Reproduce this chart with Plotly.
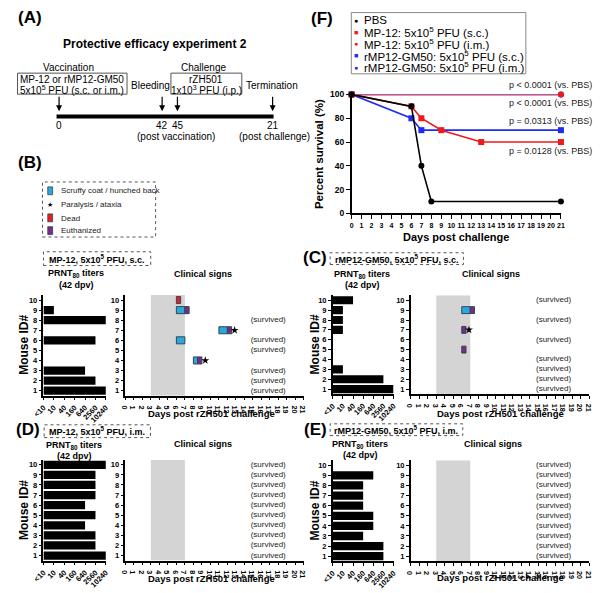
import plotly.graph_objects as go

W, H = 602, 593
def PX(x): return x / W
def PY(y): return 1 - y / H

# ------------------------------- data -------------------------------
# (F) survival after challenge
pbs_days = [0, 6, 7, 8, 21]
pbs_surv = [100, 90, 40, 10, 10]
mp12_sc_days = [0, 6, 7, 9, 13, 21]
mp12_sc_surv = [100, 90, 80, 70, 60, 60]
mp12_im_days = [0, 21]
mp12_im_surv = [100, 100]
gm50_sc_days = [0, 6, 7, 21]
gm50_sc_surv = [100, 80, 70, 70]
gm50_im_days = [0, 21]
gm50_im_surv = [100, 100]
series_names = ["PBS", "MP-12: 5x10<sup>5</sup> PFU (s.c.)", "MP-12: 5x10<sup>5</sup> PFU (i.m.)",
                "rMP12-GM50: 5x10<sup>5</sup> PFU (s.c.)", "rMP12-GM50: 5x10<sup>5</sup> PFU (i.m.)"]
p_value_labels = ["p < 0.0001 (vs. PBS)", "p < 0.0001 (vs. PBS)",
                  "p = 0.0313 (vs. PBS)", "p = 0.0128 (vs. PBS)"]

# PRNT80 titers (mouse 1..10)
mouse_ids = [1, 2, 3, 4, 5, 6, 7, 8, 9, 10]
titer_labels = ["<10", "10", "40", "160", "640", "2560", "10240"]
prnt_b = ["10240", "2560", "640", "<10", "<10", "2560", "<10", "10240", "10", "<10"]
prnt_c = ["10240", "2560", "10", "<10", "<10", "<10", "10", "10", "10", "40"]
prnt_d = ["10240", "2560", "2560", "640", "2560", "640", "2560", "2560", "2560", "10240"]
prnt_e = ["2560", "2560", "160", "640", "640", "160", "160", "160", "640", "<10"]

# clinical signs (days post challenge)
challenge_window = [3, 7]
b_scruffy_mouse = [9, 7, 6, 4]
b_scruffy_start = [6, 11, 6, 8]
b_scruffy_end = [7, 12, 7, 8.5]
b_dead_mouse = [10]
b_dead_start = [6]
b_dead_end = [6.5]
b_euth_mouse = [9, 7, 4]
b_euth_start = [7, 12, 8.5]
b_euth_end = [7.5, 12.5, 9]
b_para_mouse = [7, 4]
b_para_day = [12.85, 9.4]
b_survived = [8, 6, 5, 3, 2, 1]

c_scruffy_mouse = [9]
c_scruffy_start = [6]
c_scruffy_end = [7]
c_euth_mouse = [9, 7, 5]
c_euth_start = [7, 6, 6]
c_euth_end = [7.5, 6.5, 6.5]
c_para_mouse = [7]
c_para_day = [6.85]
c_survived = [10, 8, 6, 4, 3, 2, 1]

d_survived = [10, 9, 8, 7, 6, 5, 4, 3, 2, 1]
e_survived = [10, 9, 8, 7, 6, 5, 4, 3, 2, 1]

# ------------------------------- style -------------------------------
FONT = "Arial"
CYAN = "#29a8e0"
RED = "#e41e26"
PURPLE = "#7b2a8c"
BLUE = "#1f2bf0"
SRED = "#f01818"
GREY = "#d4d4d4"
SURV_X = 16.8

fig = go.Figure()

# ---- (F) survival ----
def surv(days, vals, color, symbol):
    fig.add_trace(go.Scatter(x=days, y=vals, mode="lines+markers", xaxis="x", yaxis="y",
                             line=dict(color=color, width=1.6),
                             marker=dict(color=color, symbol=symbol, size=6),
                             cliponaxis=False, showlegend=False, hoverinfo="skip"))

surv(gm50_sc_days, gm50_sc_surv, BLUE, "square")
surv(gm50_im_days, gm50_im_surv, BLUE, "circle")
surv(mp12_sc_days, mp12_sc_surv, SRED, "square")
surv(mp12_im_days, mp12_im_surv, SRED, "circle")
surv(pbs_days, pbs_surv, "black", "circle")

# ---- PRNT bars ----
def prnt(vals, ax):
    fig.add_trace(go.Bar(orientation="h", y=mouse_ids, x=[titer_labels.index(v) for v in vals],
                         width=0.82, marker=dict(color="black", line=dict(width=0)),
                         xaxis="x" + ax, yaxis="y" + ax, showlegend=False, hoverinfo="skip"))

prnt(prnt_b, "2")
prnt(prnt_c, "4")
prnt(prnt_d, "6")
prnt(prnt_e, "8")

# ---- clinical signs ----
def events(mice, start, end, color, ax):
    fig.add_trace(go.Bar(orientation="h", y=mice, base=start,
                         x=[e - s for s, e in zip(start, end)], width=0.7,
                         marker=dict(color=color, line=dict(color="#34464e", width=1)),
                         xaxis="x" + ax, yaxis="y" + ax, showlegend=False, hoverinfo="skip"))

def para(mice, days, ax):
    fig.add_trace(go.Scatter(x=days, y=mice, mode="markers", xaxis="x" + ax, yaxis="y" + ax,
                             marker=dict(symbol="star", size=6, color="black"),
                             showlegend=False, hoverinfo="skip", cliponaxis=False))

def survived(mice, ax):
    fig.add_trace(go.Scatter(x=[SURV_X] * len(mice), y=mice, mode="text", text=["(survived)"] * len(mice),
                             textfont=dict(family=FONT, size=8, color="#222"),
                             xaxis="x" + ax, yaxis="y" + ax, showlegend=False, hoverinfo="skip",
                             cliponaxis=False))

events(b_scruffy_mouse, b_scruffy_start, b_scruffy_end, CYAN, "3")
events(b_dead_mouse, b_dead_start, b_dead_end, RED, "3")
events(b_euth_mouse, b_euth_start, b_euth_end, PURPLE, "3")
para(b_para_mouse, b_para_day, "3")
survived(b_survived, "3")

events(c_scruffy_mouse, c_scruffy_start, c_scruffy_end, CYAN, "5")
events(c_euth_mouse, c_euth_start, c_euth_end, PURPLE, "5")
para(c_para_mouse, c_para_day, "5")
survived(c_survived, "5")

survived(d_survived, "7")
survived(e_survived, "9")

# ------------------------------- axes -------------------------------
def axis(domain_px, rng, horizontal, anchor, **kw):
    if horizontal:
        dom = [PX(domain_px[0]), PX(domain_px[1])]
    else:
        dom = [PY(domain_px[0]), PY(domain_px[1])]
    d = dict(domain=dom, range=rng, anchor=anchor, showline=True, linecolor="black", linewidth=1.5,
             ticks="outside", ticklen=3, tickwidth=1.2, tickcolor="black", showgrid=False,
             zeroline=False, fixedrange=True,
             tickfont=dict(family=FONT, size=7.5, color="black", weight="bold"))
    d.update(kw)
    return d

layout_axes = {}
# F
layout_axes["xaxis"] = axis([349.3, 564], [0, 21], True, "y", tickmode="linear", tick0=0, dtick=1,
                            ticklen=4, tickfont=dict(family=FONT, size=7, color="black", weight="bold"))
layout_axes["yaxis"] = axis([212, 91], [0, 100], False, "x", tickmode="linear", tick0=0, dtick=20,
                            ticklen=4, tickfont=dict(family=FONT, size=8.5, color="black", weight="bold"))

panels = {
    "2": ([33.3, 97.3], [397.4, 295.0], "prnt"),
    "3": ([117.3, 300.4], [397.4, 295.0], "clin"),
    "4": ([330, 392.3], [395.7, 295.3], "prnt"),
    "5": ([410, 593], [395.7, 295.3], "clin"),
    "6": ([33.3, 97.3], [565.1, 462.6], "prnt"),
    "7": ([117.3, 300.4], [565.1, 462.6], "clin"),
    "8": ([330, 392.3], [565.8, 463.0], "prnt"),
    "9": ([410, 593], [565.8, 463.0], "clin"),
}
for k, (xd, yd, kind) in panels.items():
    if kind == "prnt":
        layout_axes["xaxis" + k] = axis(xd, [0, 6], True, "y" + k, tickmode="array",
                                        tickvals=list(range(len(titer_labels))), ticktext=titer_labels,
                                        tickangle=-45)
    else:
        layout_axes["xaxis" + k] = axis(xd, [0, 21], True, "y" + k, tickmode="linear", tick0=0, dtick=1,
                                        tickfont=dict(family=FONT, size=7.2, color="black", weight="bold"))
    layout_axes["yaxis" + k] = axis(yd, [0.5, 10.5], False, "x" + k, tickmode="linear", tick0=1, dtick=1)

# ------------------------------- shapes -------------------------------
shapes = []
for k in ["3", "5", "7", "9"]:
    shapes.append(dict(type="rect", xref="x" + k, yref="y" + k, x0=challenge_window[0], x1=challenge_window[1],
                       y0=0.5, y1=10.5, fillcolor=GREY, line=dict(width=0), layer="below"))

def prect(x0, x1, y0, y1, **kw):
    d = dict(type="rect", xref="paper", yref="paper", x0=PX(x0), x1=PX(x1), y0=PY(y1), y1=PY(y0))
    d.update(kw)
    return d

# dotted boxes
dot = dict(color="#555", width=1, dash="dot")
shapes += [
    prect(32.3, 148.3, 180, 236, line=dot),
    prect(33.3, 143.3, 251, 265, line=dot),
    prect(327.3, 464, 252, 264, line=dot),
    prect(34, 143, 427, 440, line=dot),
    prect(327.3, 463.3, 426, 438, line=dot),
]
# legend B keys
shapes += [
    prect(37.7, 42.7, 185, 193, fillcolor=CYAN, line=dict(color="#34464e", width=0.8)),
    prect(37.7, 42.7, 212.5, 220.5, fillcolor=RED, line=dict(color="#34464e", width=0.8)),
    prect(37.7, 42.7, 225.5, 233.5, fillcolor=PURPLE, line=dict(color="#34464e", width=0.8)),
]
# legend F box
shapes.append(prect(349, 528, 7.7, 70, line=dict(color="#8a8a8a", width=1)))
# panel A boxes
shapes += [
    prect(6.7, 119, 69.3, 90.7, line=dict(color="#555", width=1)),
    prect(164, 236.7, 69.3, 90.7, line=dict(color="#555", width=1)),
]
# timeline bar
shapes.append(dict(type="line", xref="paper", yref="paper", x0=PX(46.7), x1=PX(269.3), y0=PY(113.3),
                   y1=PY(113.3), line=dict(color="black", width=4)))

# ------------------------------- annotations -------------------------------
ann = []
def T(x, y, s, size=9, bold=False, color="black", xanchor="center", angle=0):
    ann.append(dict(x=PX(x), y=PY(y), xref="paper", yref="paper", text=s, showarrow=False,
                    xanchor=xanchor, yanchor="middle", textangle=angle,
                    font=dict(family=FONT, size=size, color=color, weight="bold" if bold else "normal")))

# panel letters
for lab, x, y in [("(A)", 19, 13), ("(B)", 19, 160), ("(C)", 312, 257), ("(D)", 17, 432),
                  ("(E)", 312, 432), ("(F)", 319, 14)]:
    T(x, y, lab, size=17, bold=True)

# panel A
T(148, 40, "Protective efficacy experiment 2", size=12, bold=True)
T(58.7, 63.3, "Vaccination", size=10)
T(63, 76, "MP-12 or rMP12-GM50", size=10)
T(63, 86.5, "5x10<sup>5</sup> PFU (s.c. or i.m.)", size=10)
T(142.7, 81.7, "Bleeding", size=10)
T(197.7, 63.3, "Challenge", size=10)
T(200.3, 76, "rZH501", size=10)
T(200.3, 86.5, "1x10<sup>3</sup> PFU (i.p.)", size=10)
T(268, 81.7, "Termination", size=10)
T(49.3, 122.7, "0", size=10)
T(155, 122.7, "42", size=10)
T(171, 122.7, "45", size=10)
T(268.3, 122.7, "21", size=10)
T(169.5, 133.5, "(post vaccination)", size=10)
T(270, 133.5, "(post challenge)", size=10)
for x in [49.3, 155, 170.7, 268.3]:
    ann.append(dict(x=PX(x), y=PY(108), xref="paper", yref="paper", ax=0, ay=-16, showarrow=True,
                    arrowhead=2, arrowsize=1, arrowwidth=1.2, arrowcolor="black", text=""))

# legend B
T(49, 189, "Scruffy coat / hunched back", size=8, xanchor="left", color="#222")
T(40.2, 203.3, "★", size=7)
T(49, 203.3, "Paralysis / ataxia", size=8, xanchor="left", color="#222")
T(49, 216.7, "Dead", size=8, xanchor="left", color="#222")
T(49, 229.3, "Euthanized", size=8, xanchor="left", color="#222")

# subtitle boxes
T(88.3, 258, "MP-12, 5x10<sup>5</sup> PFU, s.c.", size=9, bold=True)
T(395.6, 258, "rMP12-GM50, 5x10<sup>5</sup> PFU, s.c.", size=9, bold=True)
T(88.5, 433.5, "MP-12, 5x10<sup>5</sup> PFU, i.m.", size=9, bold=True)
T(395.3, 432, "rMP12-GM50, 5x10<sup>5</sup> PFU, i.m.", size=9, bold=True)

# PRNT titles & clinical titles
for x, y in [(67, 273.3), (360, 274.3), (65, 447.7), (358, 446.7)]:
    T(x, y, "PRNT<sub>80</sub> titers", size=9, bold=True)
    T(x, y + 11, "(42 dpv)", size=9, bold=True)
for x, y in [(197, 273.3), (492, 273.3), (197, 446.7), (494, 446.7)]:
    T(x, y, "Clinical signs", size=9, bold=True)

# axis titles
for x, y in [(14, 346), (312, 345), (14, 514), (312, 514)]:
    T(x, y, "Mouse ID#", size=12, bold=True, angle=-90)
for x, y in [(206, 415.5), (501.5, 415), (206, 583.3), (501.5, 582.5)]:
    T(x, y, "Days post rZH501 challenge", size=9.5, bold=True)

# panel F
T(316, 151.5, "Percent survival (%)", size=11.5, bold=True, angle=-90)
T(456.7, 236, "Days post challenge", size=11, bold=True)
for lab, y in zip(p_value_labels, [81.7, 100, 118.3, 148.3]):
    T(598, y, lab, size=9, xanchor="right", color="#222")

# legend F (manual)
leg_sym = [("●", "black"), ("■", SRED), ("●", SRED), ("■", BLUE), ("●", BLUE)]
for i, (name, (sym, col)) in enumerate(zip(series_names, leg_sym)):
    y = 15.5 + 12 * i
    T(354.3, y, sym, size=7, color=col)
    T(360, y, name, size=11.5, xanchor="left")

fig.update_layout(
    width=W, height=H, margin=dict(l=0, r=0, t=0, b=0),
    paper_bgcolor="white", plot_bgcolor="white",
    barmode="overlay", showlegend=False,
    shapes=shapes, annotations=ann,
    **layout_axes,
)

fig.write_html("out.html", config={"displayModeBar": False},
               post_script="document.body.style.margin='0px';document.body.style.overflow='hidden';")
